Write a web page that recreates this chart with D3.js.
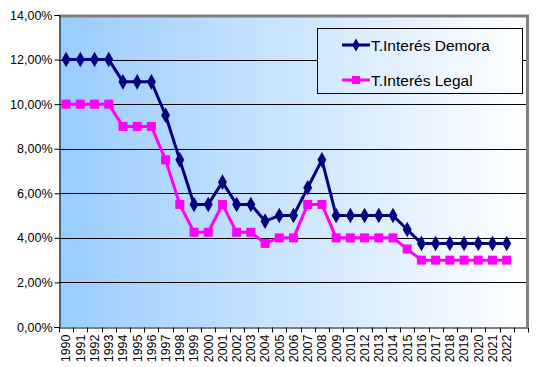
<!DOCTYPE html>
<html>
<head>
<meta charset="utf-8">
<script src="https://cdn.jsdelivr.net/npm/d3@7"></script>
<style>
  body { margin: 0; background: #fff; }
  text { font-family: "Liberation Sans", Arial, sans-serif; }
</style>
</head>
<body>
<div id="chart"></div>
<script>
// years shown on the axis (no 2011 in the source), plus one empty slot at the end
const years = ["1990","1991","1992","1993","1994","1995","1996","1997","1998","1999",
  "2000","2001","2002","2003","2004","2005","2006","2007","2008","2009","2010",
  "2012","2013","2014","2015","2016","2017","2018","2019","2020","2021","2022",""];

const demora = [12,12,12,12,11,11,11,9.5,7.5,5.5,
  5.5,6.5,5.5,5.5,4.75,5,5,6.25,7.5,5,5,
  5,5,5,4.375,3.75,3.75,3.75,3.75,3.75,3.75,3.75];

const legal = [10,10,10,10,9,9,9,7.5,5.5,4.25,
  4.25,5.5,4.25,4.25,3.75,4,4,5.5,5.5,4,4,
  4,4,4,3.5,3,3,3,3,3,3,3];

const yTicks = [0,2,4,6,8,10,12,14];
const seriesNames = ["T.Interés Demora", "T.Interés Legal"];

const width = 536, height = 367;
const margin = {top: 15, right: 8, bottom: 40, left: 59};

const svg = d3.select("#chart").append("svg")
  .attr("width", width)
  .attr("height", height);

const defs = svg.append("defs");
const grad = defs.append("linearGradient")
  .attr("id", "bg")
  .attr("gradientUnits", "userSpaceOnUse")
  .attr("x1", margin.left).attr("x2", width - margin.right)
  .attr("y1", 0).attr("y2", 0);
grad.append("stop").attr("offset", "0%").attr("stop-color", "#99ccff");
grad.append("stop").attr("offset", "100%").attr("stop-color", "#ffffff");

const x = d3.scaleBand()
  .domain(years)
  .range([margin.left, width - margin.right]);

const y = d3.scaleLinear()
  .domain([0, 14])
  .range([height - margin.bottom, margin.top]);

// plot background
svg.append("rect")
  .attr("x", margin.left)
  .attr("y", margin.top)
  .attr("width", width - margin.right - margin.left)
  .attr("height", height - margin.bottom - margin.top)
  .attr("fill", "url(#bg)");

// grid lines
svg.append("g")
  .selectAll("line")
  .data(yTicks.filter(d => d > 0 && d < 14))
  .join("line")
  .attr("x1", margin.left)
  .attr("x2", width - margin.right - 2)
  .attr("y1", d => Math.round(y(d)) + 0.5)
  .attr("y2", d => Math.round(y(d)) + 0.5)
  .attr("stroke", "#000")
  .attr("stroke-width", 1);

// gray frame top and right
svg.append("path")
  .attr("d", `M${margin.left},${margin.top + 1}H${width - margin.right - 0.5}V${height - margin.bottom}`)
  .attr("fill", "none")
  .attr("stroke", "#808080")
  .attr("stroke-width", 3);

// y axis
const yAxis = svg.append("g")
  .attr("transform", `translate(${margin.left + 0.5},0)`)
  .call(d3.axisLeft(y)
    .tickValues(yTicks)
    .tickSize(5)
    .tickFormat(d => d3.format(".2f")(d).replace(".", ",") + "%"));
yAxis.select(".domain").attr("stroke", "#000");
yAxis.selectAll("line").attr("stroke", "#000");
yAxis.selectAll("text")
  .attr("x", -7)
  .attr("fill", "#000")
  .style("font-size", "12.5px");

// x axis
const xAxis = svg.append("g")
  .attr("transform", `translate(0,${height - margin.bottom + 0.5})`)
  .call(d3.axisBottom(x).tickSize(0).tickSizeOuter(0));
xAxis.select(".domain").attr("stroke", "#000");
xAxis.selectAll(".tick text")
  .attr("fill", "#000")
  .style("font-size", "12.5px")
  .attr("text-anchor", "end")
  .attr("transform", "rotate(-90)")
  .attr("x", -7)
  .attr("y", 0)
  .attr("dy", "0.35em");

// ticks on category boundaries
const bounds = years.map(d => x(d)).concat([x(years[years.length - 1]) + x.bandwidth()]);
xAxis.append("g")
  .selectAll("line")
  .data(bounds)
  .join("line")
  .attr("x1", d => Math.round(d) + 0.5)
  .attr("x2", d => Math.round(d) + 0.5)
  .attr("y1", 0)
  .attr("y2", 5)
  .attr("stroke", "#000");

const cx = i => x(years[i]) + x.bandwidth() / 2;
const line = d3.line()
  .x((d, i) => cx(i))
  .y(d => y(d));

// Demora
svg.append("path")
  .datum(demora)
  .attr("d", line)
  .attr("fill", "none")
  .attr("stroke", "#000080")
  .attr("stroke-width", 3)
  .attr("stroke-linejoin", "round");
svg.append("g")
  .selectAll("path")
  .data(demora)
  .join("path")
  .attr("transform", (d, i) => `translate(${cx(i)},${y(d)})`)
  .attr("d", d3.symbol().type(d3.symbolDiamond).size(70))
  .attr("fill", "#000080");

// Legal
svg.append("path")
  .datum(legal)
  .attr("d", line)
  .attr("fill", "none")
  .attr("stroke", "#ff00ff")
  .attr("stroke-width", 3)
  .attr("stroke-linejoin", "round");
svg.append("g")
  .selectAll("rect")
  .data(legal)
  .join("rect")
  .attr("x", (d, i) => cx(i) - 4.5)
  .attr("y", d => y(d) - 4.5)
  .attr("width", 9)
  .attr("height", 9)
  .attr("fill", "#ff00ff");

// legend
const legend = svg.append("g");
legend.append("rect")
  .attr("x", 317.5)
  .attr("y", 28.5)
  .attr("width", 205)
  .attr("height", 65)
  .attr("fill", "url(#bg)")
  .attr("stroke", "#000");

const items = legend.selectAll("g.item")
  .data(seriesNames)
  .join("g")
  .attr("class", "item")
  .attr("transform", (d, i) => `translate(0,${45 + i * 35})`);

items.append("line")
  .attr("x1", 342).attr("x2", 370)
  .attr("y1", 0).attr("y2", 0)
  .attr("stroke", (d, i) => i === 0 ? "#000080" : "#ff00ff")
  .attr("stroke-width", 3);

items.each(function(d, i) {
  const g = d3.select(this);
  if (i === 0) {
    g.append("path")
      .attr("transform", "translate(356,0)")
      .attr("d", d3.symbol().type(d3.symbolDiamond).size(50))
      .attr("fill", "#000080");
  } else {
    g.append("rect")
      .attr("x", 352).attr("y", -4)
      .attr("width", 8).attr("height", 8)
      .attr("fill", "#ff00ff");
  }
});

items.append("text")
  .attr("x", 371)
  .attr("y", 0)
  .attr("dy", "0.36em")
  .style("font-size", "15.5px")
  .attr("fill", "#000")
  .text(d => d);
</script>
</body>
</html>
